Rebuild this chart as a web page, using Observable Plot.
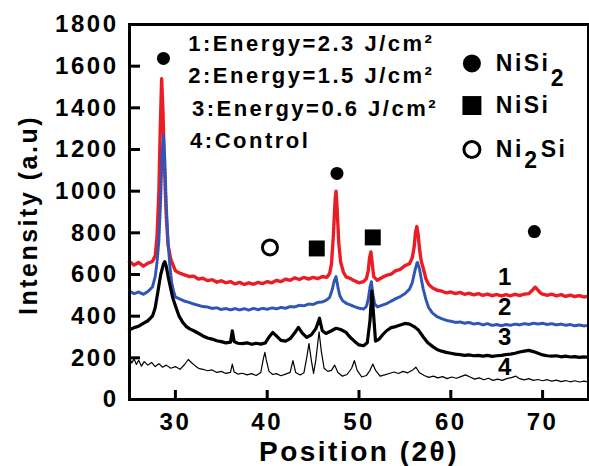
<!DOCTYPE html>
<html><head><meta charset="utf-8">
<script src="https://cdn.jsdelivr.net/npm/d3@7"></script>
<script src="https://cdn.jsdelivr.net/npm/@observablehq/plot@0.6"></script>
<style>html,body{margin:0;padding:0;background:#fff;} #chart svg{display:block;}</style>
</head><body><div id="chart"></div>
<script>
// Series 1: Energy = 2.3 J/cm2 (red)
const s1 = [[25,662],[25.5,645],[26,658],[26.5,640],[27,654],[27.5,662],[27.8,690],[28.0,780],[28.2,1000],[28.35,1300],[28.5,1540],[28.65,1380],[28.8,1120],[29.0,880],[29.2,740],[29.5,672],[30,618],[30.5,606],[31,598],[31.5,590],[32,592],[32.5,578],[33,582],[33.5,570],[34,575],[34.5,563],[35,570],[35.5,560],[36,566],[36.5,555],[37,562],[37.5,552],[38,560],[38.5,553],[39,562],[39.5,556],[40,566],[40.5,560],[41,572],[41.5,566],[42,578],[42.5,572],[43,584],[43.5,576],[44,586],[44.5,578],[45,586],[45.5,580],[46,590],[46.5,586],[46.8,605],[47.0,650],[47.2,780],[47.4,960],[47.5,1000],[47.6,930],[47.8,750],[48.0,660],[48.3,612],[48.6,588],[49,582],[49.5,570],[50,560],[50.5,566],[50.8,580],[51.0,615],[51.15,680],[51.3,708],[51.45,650],[51.6,590],[52,572],[52.5,585],[53,596],[53.5,602],[54,618],[54.5,625],[55,642],[55.5,652],[55.8,680],[56.0,730],[56.15,800],[56.3,830],[56.45,790],[56.6,720],[56.8,660],[57.0,630],[57.3,578],[57.6,552],[58,536],[58.5,525],[59,520],[59.5,512],[60,516],[60.5,508],[61,514],[61.5,505],[62,510],[62.5,502],[63,508],[63.5,500],[64,506],[64.5,498],[65,504],[65.5,497],[66,503],[66.5,498],[67,505],[67.5,499],[68,506],[68.5,508],[68.9,525],[69.2,540],[69.5,525],[69.8,510],[70,506],[70.5,500],[71,506],[71.5,497],[72,503],[72.5,495],[73,501],[73.5,494],[74,499],[74.5,492],[75,496]];
// Series 2: Energy = 1.5 J/cm2 (blue)
const s2 = [[25,520],[25.5,508],[26,516],[26.5,505],[27,518],[27.5,540],[27.8,590],[28.0,660],[28.2,760],[28.4,960],[28.55,1180],[28.7,1270],[28.85,1150],[29.0,940],[29.2,760],[29.4,640],[29.6,560],[29.8,520],[30,492],[30.5,482],[31,472],[31.5,466],[32,458],[32.5,452],[33,446],[33.5,444],[34,437],[34.5,440],[35,432],[35.5,437],[36,430],[36.5,436],[37,430],[37.5,436],[38,429],[38.5,437],[39,431],[39.5,438],[40,433],[40.5,440],[41,435],[41.5,442],[42,438],[42.5,446],[43,444],[43.5,452],[44,450],[44.5,458],[45,456],[45.5,466],[46,468],[46.5,478],[46.8,490],[47.1,530],[47.3,570],[47.5,590],[47.7,540],[47.9,500],[48.2,475],[48.6,462],[49,455],[49.5,446],[50,438],[50.5,434],[50.8,446],[51.0,480],[51.2,540],[51.35,565],[51.5,510],[51.7,460],[52,444],[52.5,452],[53,460],[53.5,472],[54,484],[54.5,494],[55,508],[55.5,530],[55.8,560],[56.1,620],[56.35,660],[56.6,625],[56.8,575],[57.0,530],[57.3,478],[57.6,440],[58,415],[58.5,398],[59,388],[59.5,380],[60,376],[60.5,370],[61,372],[61.5,366],[62,370],[62.5,362],[63,366],[63.5,358],[64,364],[64.5,356],[65,360],[65.5,354],[66,360],[66.5,356],[67,362],[67.5,358],[68,364],[68.5,360],[69,366],[69.5,362],[70,366],[70.5,360],[71,364],[71.5,358],[72,362],[72.5,356],[73,360],[73.5,354],[74,358],[74.5,353],[75,356]];
// Series 3: Energy = 0.6 J/cm2 (black, thick)
const s3 = [[25,335],[25.5,345],[26,352],[26.5,365],[27,378],[27.5,400],[27.8,440],[28.1,520],[28.4,600],[28.7,650],[28.85,662],[29.0,640],[29.3,570],[29.7,490],[30,450],[30.4,400],[30.8,370],[31.2,350],[31.6,338],[32,330],[32.5,318],[33,305],[33.5,295],[34,290],[34.5,282],[35,278],[35.5,272],[36,275],[36.2,330],[36.4,278],[36.8,270],[37.3,268],[37.8,272],[38.3,265],[38.8,270],[39.3,266],[39.8,272],[40.2,300],[40.6,322],[41,305],[41.5,284],[42,280],[42.5,292],[43,320],[43.4,346],[43.8,320],[44.3,298],[44.8,310],[45.3,340],[45.7,390],[46,330],[46.4,317],[47,330],[47.5,342],[48,336],[48.6,322],[49,300],[49.5,280],[50,262],[50.5,258],[50.9,272],[51.2,380],[51.4,520],[51.6,400],[51.8,280],[52.2,290],[52.6,312],[53,330],[53.5,345],[54,350],[54.5,358],[55,365],[55.5,362],[56,350],[56.5,332],[57,300],[57.5,272],[58,255],[58.5,240],[59,232],[59.5,226],[60,222],[60.5,218],[61,215],[61.5,212],[62,214],[62.5,210],[63,212],[63.5,208],[64,212],[64.5,207],[65,210],[65.5,212],[66,215],[66.5,218],[67,222],[67.5,228],[68,232],[68.5,236],[69,230],[69.5,222],[70,214],[70.5,210],[71,208],[71.5,210],[72,205],[72.5,208],[73,204],[73.5,206],[74,202],[74.5,205],[75,202]];
// Series 4: Control (black, thin)
const s4 = [[25,200],[25.25,175],[25.5,195],[25.75,168],[26,188],[26.3,160],[26.6,182],[27,165],[27.4,178],[27.8,158],[28.2,172],[28.6,155],[29,165],[29.5,150],[30,158],[30.5,145],[31,168],[31.4,192],[31.8,175],[32.2,160],[32.6,148],[33,145],[33.5,138],[34,142],[34.5,130],[35,135],[35.5,125],[36,130],[36.2,170],[36.4,132],[36.8,122],[37.3,126],[37.8,118],[38.3,124],[38.8,115],[39.3,130],[39.6,200],[39.75,226],[39.9,190],[40.2,135],[40.6,120],[41,124],[41.5,114],[42,122],[42.5,130],[42.8,187],[43.1,130],[43.6,118],[44,128],[44.3,200],[44.55,268],[44.8,190],[45.05,125],[45.3,190],[45.65,325],[45.9,230],[46.2,150],[46.6,135],[47,140],[47.35,165],[47.7,130],[48.2,112],[48.7,120],[49.2,150],[49.5,187],[49.8,140],[50.3,108],[50.8,115],[51.2,140],[51.5,170],[51.8,140],[52.3,112],[52.8,118],[53.3,125],[53.8,132],[54.3,125],[54.8,135],[55.3,128],[55.8,140],[56.2,155],[56.6,128],[57.1,115],[57.6,106],[58.1,112],[58.6,104],[59.1,110],[59.6,100],[60.1,108],[60.6,102],[61.1,110],[61.6,118],[62.1,108],[62.6,98],[63.1,104],[63.6,95],[64.1,102],[64.6,92],[65.1,98],[65.6,92],[66.1,100],[66.6,105],[67.1,112],[67.5,100],[68,94],[68.5,100],[69,92],[69.5,96],[70,90],[70.5,95],[71,88],[71.5,93],[72,86],[72.5,91],[73,85],[73.5,90],[74,84],[74.5,88],[75,84]];

const xTicks = [30, 40, 50, 60, 70];
const yTicks = [0, 200, 400, 600, 800, 1000, 1200, 1400, 1600, 1800];
const seriesLabels = ["1", "2", "3", "4"];
const seriesLabelPos = [[66, 586], [66, 442], [66, 298], [66, 154]];
const energyLines = ["1:Energy=2.3 J/cm²", "2:Energy=1.5 J/cm²", "3:Energy=0.6 J/cm²", "4:Control"];
const energyLinePos = [[31.4, 1709], [31.4, 1555], [31.8, 1397], [31.6, 1243]];
// phase markers on peaks
const nisi2Marks = [[28.7, 1637], [47.6, 1085], [69.1, 806]];
const nisiMarks = [[45.4, 725], [51.5, 778]];
const ni2siMarks = [[40.3, 730]];
// legend of phases
const legendSymbolX = 62.3;
const legendY = {NiSi2: 1613, NiSi: 1411, Ni2Si: 1200};

const FONT = "Liberation Sans, Arial, Helvetica, sans-serif";
const X = d => d[0], Y = d => d[1];
const T = {fontWeight: "bold", fontFamily: FONT};

const plot = Plot.plot({
  width: 589, height: 466,
  marginLeft: 129, marginRight: 1, marginTop: 24, marginBottom: 67,
  x: {domain: [25, 75], axis: null},
  y: {domain: [0, 1800], axis: null},
  style: {fontFamily: FONT, fontWeight: "bold", letterSpacing: "2.5px", background: "white", color: "black", overflow: "visible"},
  marks: [
    Plot.line(s1, {x: X, y: Y, stroke: "#ec1c24", strokeWidth: 3.4, strokeDasharray: "3,1"}),
    Plot.line(s2, {x: X, y: Y, stroke: "#2f55b8", strokeWidth: 3, strokeDasharray: "1.6,1.4"}),
    Plot.line(s3, {x: X, y: Y, stroke: "black", strokeWidth: 3.2}),
    Plot.line(s4, {x: X, y: Y, stroke: "black", strokeWidth: 1.2}),
    Plot.frame({stroke: "black", strokeWidth: 3}),
    Plot.tickX(xTicks, {x: d => d, insetTop: 375 - 9, stroke: "black", strokeWidth: 3}),
    Plot.tickY(yTicks.filter(v => v > 0 && v < 1800), {y: d => d, insetRight: 458 - 10, stroke: "black", strokeWidth: 3}),
    Plot.text(xTicks, {x: d => d, frameAnchor: "bottom", lineAnchor: "middle", textAnchor: "middle", dy: 23, text: d => String(d), fontSize: 24, ...T}),
    Plot.text(yTicks, {y: d => d, frameAnchor: "left", lineAnchor: "middle", dx: -11, textAnchor: "end", text: d => String(d), fontSize: 24, ...T}),
    Plot.text(["Position (2θ)"], {frameAnchor: "bottom", lineAnchor: "middle", textAnchor: "middle", dy: 53, text: d => d, fontSize: 28, ...T}),
    Plot.text(["Intensity (a.u)"], {frameAnchor: "left", lineAnchor: "middle", textAnchor: "middle", dx: -101, dy: 3, rotate: -90, text: d => d, fontSize: 25, ...T}),
    Plot.text(seriesLabels, {x: (d, i) => seriesLabelPos[i][0], y: (d, i) => seriesLabelPos[i][1], text: d => d, fontSize: 24, ...T}),
    Plot.text(energyLines, {x: (d, i) => energyLinePos[i][0], y: (d, i) => energyLinePos[i][1], text: d => d, textAnchor: "start", fontSize: 22, ...T}),
    Plot.dot(nisi2Marks, {x: X, y: Y, r: 6.5, fill: "black", stroke: "none"}),
    Plot.dot(nisiMarks, {x: X, y: Y, r: 9, symbol: "square", fill: "black", stroke: "none"}),
    Plot.dot(ni2siMarks, {x: X, y: Y, r: 7.5, fill: "white", stroke: "black", strokeWidth: 3}),
    Plot.dot([legendY.NiSi2], {x: legendSymbolX, y: d => d, r: 9, fill: "black", stroke: "none"}),
    Plot.dot([legendY.NiSi], {x: legendSymbolX, y: d => d, r: 10.7, symbol: "square", fill: "black", stroke: "none"}),
    Plot.dot([legendY.Ni2Si], {x: legendSymbolX, y: d => d, r: 8, fill: "white", stroke: "black", strokeWidth: 3}),
    Plot.text([legendY.NiSi2], {x: 64.9, y: d => d, text: ["NiSi"], textAnchor: "start", fontSize: 23, ...T}),
    Plot.text([legendY.NiSi2 - 72], {x: 70.9, y: d => d, text: ["2"], textAnchor: "start", fontSize: 23, ...T}),
    Plot.text([legendY.NiSi], {x: 64.9, y: d => d, text: ["NiSi"], textAnchor: "start", fontSize: 23, ...T}),
    Plot.text([legendY.Ni2Si], {x: 64.9, y: d => d, text: ["Ni"], textAnchor: "start", fontSize: 23, ...T}),
    Plot.text([legendY.Ni2Si - 55], {x: 68.0, y: d => d, text: ["2"], textAnchor: "start", fontSize: 23, ...T}),
    Plot.text([legendY.Ni2Si], {x: 69.8, y: d => d, text: ["Si"], textAnchor: "start", fontSize: 23, ...T})
  ]
});
document.getElementById("chart").appendChild(plot);
</script>
</body></html>
